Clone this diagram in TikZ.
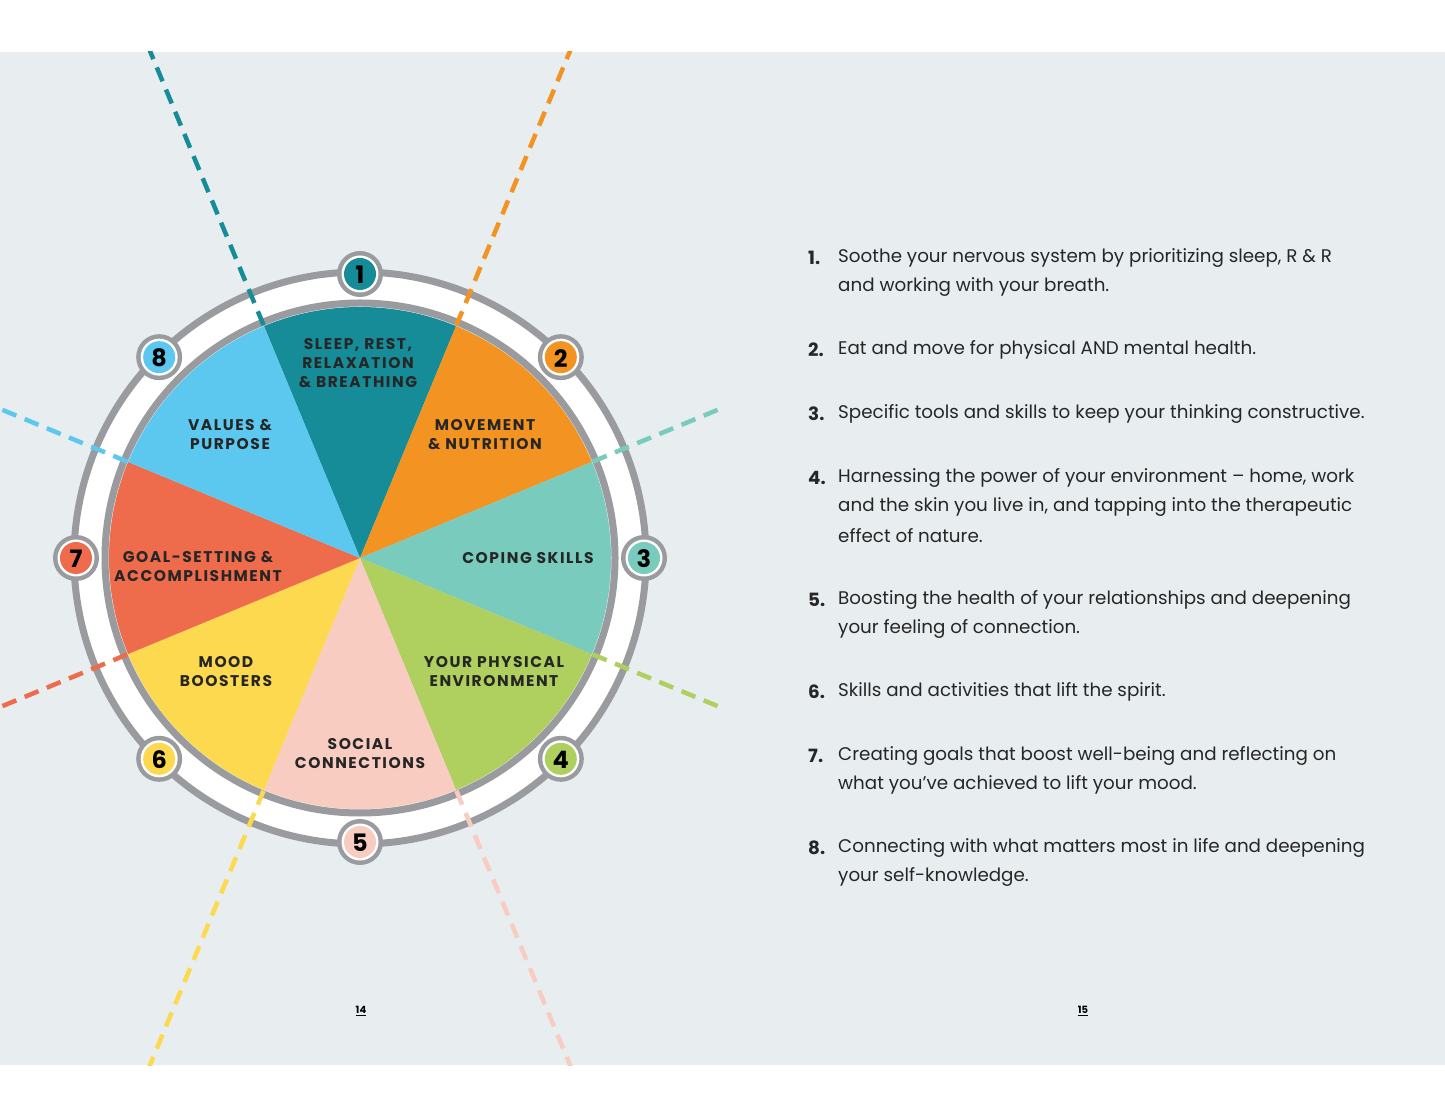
\documentclass[tikz,border=0pt]{standalone}
\usepackage{fontspec}
\setmainfont{Poppins}
\usetikzlibrary{calc}
\begin{document}
\begin{tikzpicture}[x=1pt,y=1pt,
 lab/.style={font=\fontsize{15.5}{19}\selectfont\bfseries\addfontfeature{LetterSpace=10}, align=center, text=black!85},
 body/.style={font=\fontsize{18.3}{29}\selectfont, anchor=west, text=black!85, inner sep=0},
 num/.style={font=\fontsize{18.3}{29}\selectfont\bfseries, anchor=west, text=black!85, inner sep=0},
 dl/.style={line width=4.5pt, dash pattern=on 15pt off 9pt}]
\definecolor{bg}{HTML}{E8EEEF}
\definecolor{ring}{HTML}{9A9B9E}
\definecolor{cA}{HTML}{168C99}
\definecolor{cB}{HTML}{F39322}
\definecolor{cC}{HTML}{78CBBD}
\definecolor{cD}{HTML}{AFCF5E}
\definecolor{cE}{HTML}{F8CCC1}
\definecolor{cF}{HTML}{FDD94F}
\definecolor{cG}{HTML}{EE6C4B}
\definecolor{cH}{HTML}{5CC8F0}
\useasboundingbox (0,0) rectangle (1445,1117);
\fill[white] (0,0) rectangle (1445,1117);
\fill[bg] (0,52) rectangle (1445,1065);
\coordinate (C) at (360,559);
% ring
\fill[white,even odd rule] (C) circle (289) (C) circle (253);
\draw[ring,line width=7pt] (C) circle (286);
\draw[ring,line width=7pt] (C) circle (255);
% dashed lines
\begin{scope}
\clip (0,52) rectangle (1445,1065);
\foreach \a/\c/\r in {112.5/cA/560,67.5/cB/560,22.5/cC/392,-22.5/cD/392,-67.5/cE/560,-112.5/cF/560,202.5/cG/560,157.5/cH/560}
  \draw[dl,\c] ($(C)+(\a:252)$) -- ($(C)+(\a:\r)$);
\end{scope}
% pie
\foreach \a/\c in {90/cA,45/cB,0/cC,-45/cD,-90/cE,-135/cF,180/cG,135/cH}
  \fill[\c] (C) -- ($(C)+(\a-22.5:251)$) arc[start angle=\a-22.5, end angle=\a+22.5, radius=251] -- cycle;
% labels
\node[lab] (l1) at (358,754) {SLEEP, REST,\\RELAXATION\\\& BREATHING};
\node[lab] (l2) at (485,682) {MOVEMENT\\\& NUTRITION};
\node[lab] (l3) at (528,559) {COPING SKILLS};
\node[lab] (l4) at (494,445) {YOUR PHYSICAL\\ENVIRONMENT};
\node[lab] (l5) at (360,363) {SOCIAL\\CONNECTIONS};
\node[lab] (l6) at (226,445) {MOOD\\BOOSTERS};
\node[lab] (l7) at (198,550) {GOAL-SETTING \&\\ACCOMPLISHMENT};
\node[lab] (l8) at (230,682) {VALUES \&\\PURPOSE};
% badges
\foreach \a/\c/\n in {90/cA/1,45/cB/2,0/cC/3,-45/cD/4,-90/cE/5,-135/cF/6,180/cG/7,135/cH/8}{
  \fill[ring] ($(C)+(\a:284)$) circle (23);
  \fill[white] ($(C)+(\a:284)$) circle (18.5);
  \fill[\c] ($(C)+(\a:284)$) circle (16);
  \node[font=\fontsize{24}{24}\selectfont\bfseries] (b\n) at ($(C)+(\a:284)+(0,-1)$) {\n};
}
% right text
\foreach \y/\n in {258/1,350/2,414/3,478/4,600/5,692/6,756/7,848/8}
  \node[num] (n\n) at (808,1117-\y) {\n.};
\node[body] (t1a) at (838,1117-258) {Soothe your nervous system by prioritizing sleep, R \& R};
\node[body] (t1b) at (838,1117-287) {and working with your breath.};
\node[body] (t2) at (838,1117-350) {Eat and move for physical AND mental health.};
\node[body] (t3) at (838,1117-414) {Specific tools and skills to keep your thinking constructive.};
\node[body] (t4a) at (838,1117-478) {Harnessing the power of your environment – home, work};
\node[body] (t4b) at (838,1117-507) {and the skin you live in, and tapping into the therapeutic};
\node[body] (t4c) at (838,1117-536) {effect of nature.};
\node[body] (t5a) at (838,1117-600) {Boosting the health of your relationships and deepening};
\node[body] (t5b) at (838,1117-629) {your feeling of connection.};
\node[body] (t6) at (838,1117-692) {Skills and activities that lift the spirit.};
\node[body] (t7a) at (838,1117-756) {Creating goals that boost well-being and reflecting on};
\node[body] (t7b) at (838,1117-785) {what you’ve achieved to lift your mood.};
\node[body] (t8a) at (838,1117-848) {Connecting with what matters most in life and deepening};
\node[body] (t8b) at (838,1117-877) {your self-knowledge.};
% page numbers
\node[font=\fontsize{10}{10}\selectfont\bfseries] (p14) at (361,1117-1011) {\underline{14}};
\node[font=\fontsize{10}{10}\selectfont\bfseries] (p15) at (1083,1117-1011) {\underline{15}};
\end{tikzpicture}
\end{document}
